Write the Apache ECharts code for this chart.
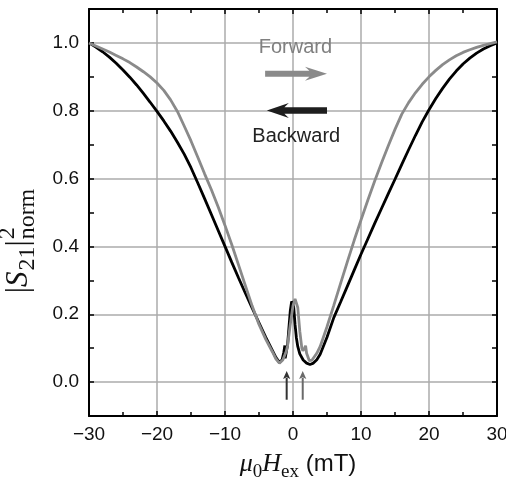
<!DOCTYPE html>
<html><head><meta charset="utf-8">
<script src="https://cdn.jsdelivr.net/npm/echarts@6/dist/echarts.min.js"></script>
<style>html,body{margin:0;padding:0;background:#fff}#c{width:506px;height:481px}</style>
</head><body><div id="c"></div>
<script>
// ---- data ----
const backwardField = [-30,-29,-28,-27,-26,-25,-24,-23,-22,-21,-20,-19,-18,-17,-16,-15,-14,-13,-12,-11,-10,-9,-8,-7,-6,-5,-4,-3,-2.5,-2,-1.6,-1.35,-1.2,-1.15,-1.0,-0.8,-0.6,-0.4,-0.2,-0.1,0.1,0.3,0.5,0.7,1.0,1.5,2.0,2.5,3.0,3.5,4,5,6,7,8,9,10,11,12,13,14,15,16,17,18,19,20,21,22,23,24,25,26,27,28,29,30];
const backwardValue = [1.000,0.988,0.974,0.958,0.940,0.920,0.899,0.876,0.851,0.825,0.798,0.770,0.740,0.707,0.672,0.632,0.587,0.541,0.494,0.447,0.400,0.353,0.307,0.262,0.218,0.175,0.132,0.092,0.072,0.058,0.066,0.088,0.108,0.070,0.072,0.110,0.160,0.210,0.238,0.242,0.222,0.170,0.130,0.105,0.083,0.065,0.056,0.052,0.056,0.066,0.082,0.132,0.190,0.236,0.283,0.330,0.377,0.422,0.467,0.511,0.555,0.598,0.642,0.685,0.727,0.767,0.803,0.836,0.866,0.893,0.917,0.938,0.955,0.970,0.982,0.992,1.000];
const forwardField = [-30,-29,-28,-27,-26,-25,-24,-23,-22,-21,-20,-19,-18,-17,-16,-15,-14,-13,-12,-11,-10,-9,-8,-7,-6,-5,-4,-3,-2.5,-2,-1.5,-1.0,-0.8,-0.4,0,0.3,0.45,0.7,1.0,1.3,1.45,1.7,1.85,2.0,2.4,2.8,3.5,4,5,6,7,8,9,10,11,12,13,14,15,16,17,18,19,20,21,22,23,24,25,26,27,28,29,30];
const forwardValue = [1.000,0.991,0.982,0.973,0.963,0.953,0.942,0.929,0.915,0.900,0.882,0.860,0.832,0.798,0.755,0.711,0.663,0.614,0.567,0.516,0.462,0.405,0.345,0.284,0.224,0.170,0.126,0.088,0.068,0.056,0.065,0.090,0.107,0.170,0.225,0.245,0.249,0.220,0.150,0.100,0.092,0.100,0.107,0.085,0.063,0.065,0.085,0.105,0.163,0.226,0.291,0.355,0.418,0.478,0.536,0.592,0.645,0.696,0.745,0.790,0.824,0.853,0.878,0.900,0.919,0.936,0.950,0.962,0.972,0.980,0.987,0.993,0.998,1.003];
const xTickValues = [-30,-20,-10,0,10,20,30];
const yTickLabels = ['0.0','0.2','0.4','0.6','0.8','1.0'];
// annotation anchors (data coordinates)
const forwardArrow = {tail:[-4.1,0.909], tip:[5.0,0.909]};
const backwardArrow = {tail:[5.0,0.801], tip:[-3.85,0.801]};
const forwardLabel = [0.35,0.988];
const backwardLabel = [0.48,0.724];
const dipArrows = [{x:-0.93, from:-0.052, to:0.033, color:'#333333'},{x:1.43, from:-0.052, to:0.033, color:'#6a6a6a'}];

const zip = (a,b)=>a.map((v,i)=>[v,b[i]]);
const SANS = '"Liberation Sans", Arial, sans-serif';
const SERIF = '"Liberation Serif", "Times New Roman", serif';
const fmtX = v => v<0 ? '\u2212'+Math.abs(v) : String(v);

const chart = echarts.init(document.getElementById('c'));
const axisCommon = {
  axisLine:{show:true,onZero:false,lineStyle:{color:'#000',width:2}},
  axisTick:{show:true,inside:true,length:5,lineStyle:{color:'#000',width:1.5}},
};
const option = {
  animation:false,
  grid:{left:89,right:9,top:9,bottom:65,containLabel:false,outerBoundsMode:'none'},
  xAxis:[
    Object.assign({type:'value',min:-30,max:30,interval:10,position:'bottom',
      minorTick:{show:true,splitNumber:2,length:4,lineStyle:{color:'#000',width:1.5}},
      axisLabel:{show:true,margin:9,color:'#111',fontSize:19,fontFamily:SANS,hideOverlap:false,formatter:v=>xTickValues.includes(v)?fmtX(v):''},
      splitLine:{show:true,lineStyle:{color:'#ababab',width:1.5}}},axisCommon),
    Object.assign({type:'value',min:-30,max:30,interval:10,position:'top',
      minorTick:{show:true,splitNumber:2,length:4,lineStyle:{color:'#000',width:1.5}},
      axisLabel:{show:false},splitLine:{show:false}},axisCommon)
  ],
  yAxis:[
    Object.assign({type:'value',min:-0.1,max:1.1,interval:0.1,position:'left',
      axisLabel:{show:true,margin:10,color:'#111',fontSize:19,fontFamily:SANS,
        formatter:v=>{const k=Math.round(v*10); return (k>=0&&k<=10&&k%2===0)?yTickLabels[k/2]:'';}},
      splitLine:{show:true,lineStyle:{color:['rgba(0,0,0,0)','#ababab'],width:1.5}}},axisCommon),
    Object.assign({type:'value',min:-0.1,max:1.1,interval:0.1,position:'right',
      axisLabel:{show:false},splitLine:{show:false}},axisCommon)
  ],
  series:[
    {name:'Backward',type:'line',data:zip(backwardField,backwardValue),showSymbol:false,
      lineStyle:{color:'#000',width:2.8},z:3},
    {name:'Forward',type:'line',data:zip(forwardField,forwardValue),showSymbol:false,
      lineStyle:{color:'#8a8a8a',width:2.8},z:4}
  ]
};
chart.setOption(option);

// ---- annotations positioned through the axes ----
const px = p => chart.convertToPixel({xAxisIndex:0,yAxisIndex:0},p);
const mctx = document.createElement('canvas').getContext('2d');
const tw = (t,f)=>{mctx.font=f;return mctx.measureText(t).width;};

function hArrow(tail,tip,sw,hl,hw,color){
  const a=px(tail), b=px(tip); const dir = b[0]>a[0]?1:-1; const y=a[1];
  const base=b[0]-dir*hl, notch=b[0]-dir*hl*0.8;
  return {type:'polygon',shape:{points:[[a[0],y-sw/2],[notch,y-sw/2],[base,y-hw],[b[0],y],[base,y+hw],[notch,y+sw/2],[a[0],y+sw/2]]},
    style:{fill:color},z:10};
}
function vArrow(d){
  const a=px([d.x,d.from]), b=px([d.x,d.to]);
  const hl=8, hw=3.6, sw=2;
  return [{type:'rect',shape:{x:a[0]-sw/2,y:b[1]+hl-1,width:sw,height:a[1]-b[1]-hl+1},style:{fill:d.color},z:10},
    {type:'polygon',shape:{points:[[b[0],b[1]],[b[0]-hw,b[1]+hl],[b[0],b[1]+hl*0.8],[b[0]+hw,b[1]+hl]]},style:{fill:d.color},z:10}];
}
function txt(t,x,y,font,color){
  return {type:'text',x:x,y:y,style:{text:t,font:font,fill:color,textAlign:'left',textVerticalAlign:'middle',align:'left',verticalAlign:'middle'}};
}
const els=[];
els.push(hArrow(forwardArrow.tail,forwardArrow.tip,6,22,7,'#8a8a8a'));
els.push(hArrow(backwardArrow.tail,backwardArrow.tip,6.5,22,7.5,'#1e1e1e'));
dipArrows.forEach(d=>els.push(...vArrow(d)));
const fl=px(forwardLabel), bl=px(backwardLabel);
els.push({type:'text',x:fl[0],y:fl[1],style:{text:'Forward',font:'20px '+SANS,fill:'#808080',textAlign:'center',textVerticalAlign:'middle',align:'center',verticalAlign:'middle'},z:10});
els.push({type:'text',x:bl[0],y:bl[1],style:{text:'Backward',font:'20px '+SANS,fill:'#222',textAlign:'center',textVerticalAlign:'middle',align:'center',verticalAlign:'middle'},z:10});

// y axis title |S21|^2_norm (rotated group)
(function(){
  const F=31, f=Math.round(F*0.77);
  const fU=F+'px '+SERIF, fI='italic '+F+'px '+SERIF, fs=f+'px '+SERIF;
  const parts=[]; let x=0; const off=0.33;
  const put=(t,font,size,base,adv)=>{parts.push(txt(t,x,base-off*size,font,'#111'));if(adv!==false)x+=tw(t,font);};
  put('|',fU,F,0);
  put('S',fI,F,0); x+=1;
  put('21',fs,f,0.22*F);
  put('|',fU,F,0); x+=1;
  const x0=x; put('2',fs,f,-0.42*F,false); x=x0; put('norm',fs,f,0.22*F);
  const L=x;
  els.push({type:'group',x:29,y:241+L/2,rotation:Math.PI/2,children:parts,z:10});
})();
// x axis title  mu_0 H_ex (mT)
(function(){
  const F=26, f=Math.round(F*0.72);
  const fI='italic '+F+'px '+SERIF, fs=f+'px '+SERIF, fS=(F-2)+'px '+SANS;
  const parts=[]; let x=0; const off=0.33;
  const put=(t,font,size,base)=>{parts.push(txt(t,x,base-off*size,font,'#111'));x+=tw(t,font);};
  put('\u03bc',fI,F,0);
  put('0',fs,f,0.22*F);
  put('H',fI,F,0);
  put('ex',fs,f,0.22*F);
  put(' (mT)',fS,F,0);
  const L=x; const cx=px([0,0])[0]+5;
  els.push({type:'group',x:cx-L/2,y:473,children:parts,z:10});
})();
chart.setOption({graphic:{elements:els}});
</script></body></html>
